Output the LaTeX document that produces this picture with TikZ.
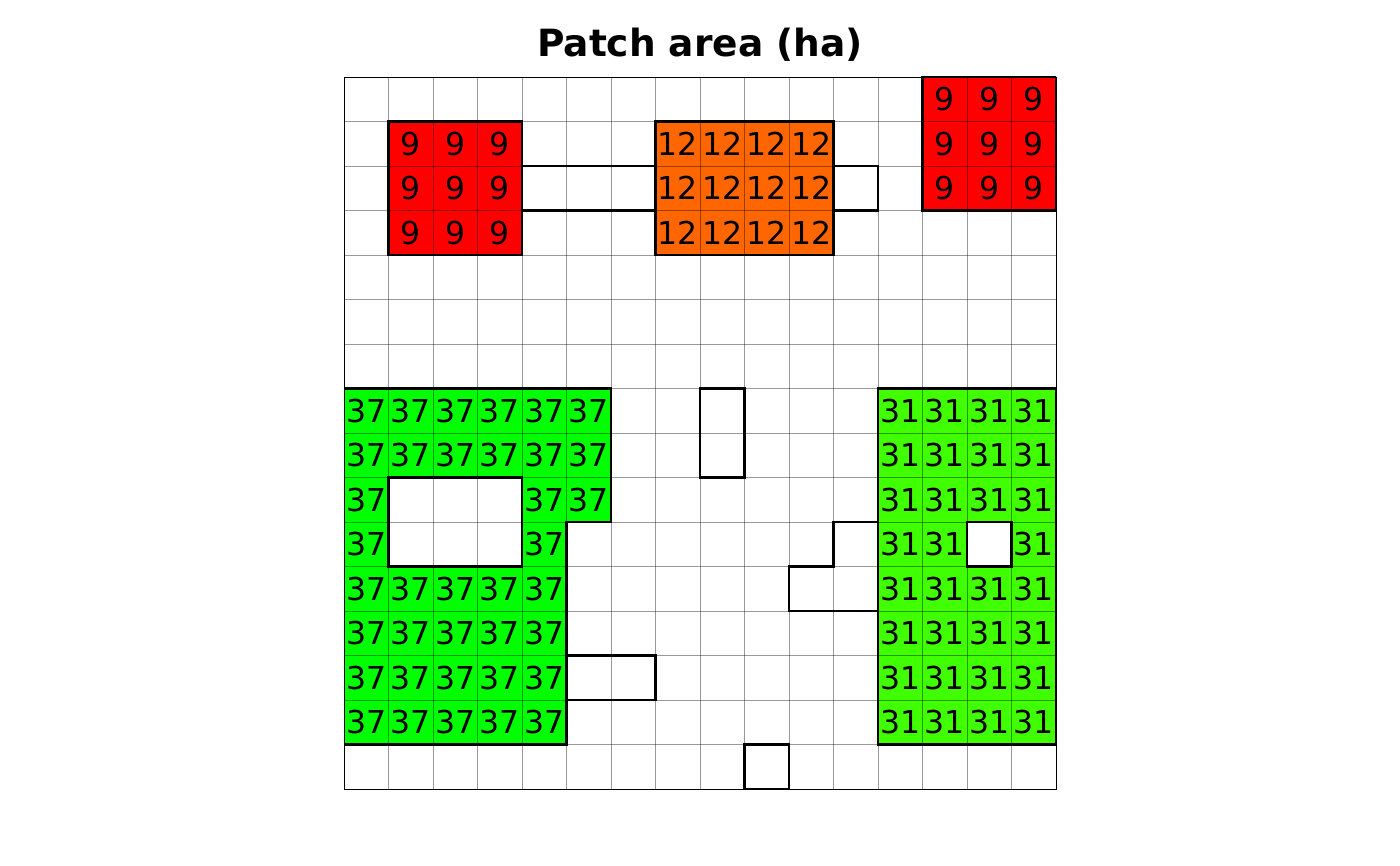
\documentclass[tikz,border=0pt]{standalone}
\usepackage{fontspec}
\setmainfont{DejaVu Sans}
\definecolor{cred}{HTML}{FF0000}
\definecolor{corange}{HTML}{FF6600}
\definecolor{cgreenA}{HTML}{00FF00}
\definecolor{cgreenB}{HTML}{40FF00}
\tikzset{
  gridline/.style={draw=black, draw opacity=0.4, line width=0.8pt},
  patchline/.style={draw=black, line width=2.2pt, line join=miter},
  celltext/.style={font=\fontsize{31.5}{31.5}\selectfont, inner sep=0pt, anchor=center},
  border/.style={draw=black, line width=0.9pt},
}
\newcommand\pcell[4]{%
  \fill[#1] (#2,#3) rectangle ++(1,1);
  \node[celltext] (t-#2-#3) at (#2+0.5,#3+0.5) {#4};
}
\begin{document}
\begin{tikzpicture}[x=1pt,y=-1pt]
\useasboundingbox (0,0) rectangle (1400,866);
\node[font=\bfseries\fontsize{37.5}{37.5}\selectfont, anchor=base, inner sep=0pt] (title) at (700,57) {Patch area (ha)};
\begin{scope}[shift={(344pt,-77pt)}, x=44.5pt, y=-44.5pt]
  % fills and labels
  \foreach \c in {1,2,3} \foreach \r in {1,2,3} {\pcell{cred}{\c}{\r}{9}}
  \foreach \c in {13,14,15} \foreach \r in {0,1,2} {\pcell{cred}{\c}{\r}{9}}
  \foreach \c in {7,8,9,10} \foreach \r in {1,2,3} {\pcell{corange}{\c}{\r}{12}}
  \foreach \c/\r in {0/7,1/7,2/7,3/7,4/7,5/7,0/8,1/8,2/8,3/8,4/8,5/8,0/9,4/9,5/9,0/10,4/10,
    0/11,1/11,2/11,3/11,4/11,0/12,1/12,2/12,3/12,4/12,0/13,1/13,2/13,3/13,4/13,0/14,1/14,2/14,3/14,4/14}
    {\pcell{cgreenA}{\c}{\r}{37}}
  \foreach \c in {12,13,14,15} \foreach \r in {7,8,9,11,12,13,14} {\pcell{cgreenB}{\c}{\r}{31}}
  \foreach \c in {12,13,15} {\pcell{cgreenB}{\c}{10}{31}}
  % grid
  \foreach \i in {1,...,15} {
    \draw[gridline] (\i,0) -- (\i,16);
    \draw[gridline] (0,\i) -- (16,\i);
  }
  % patch outlines
  \begin{scope}
    \clip (0,0) rectangle (16,16);
    \draw[patchline] (1,1) rectangle (4,4);
    \draw[patchline] (4,2) rectangle (7,3);
    \draw[patchline] (7,1) rectangle (11,4);
    \draw[patchline] (11,2) rectangle (12,3);
    \draw[patchline] (13,0) rectangle (16,3);
    \draw[patchline] (0,7) -- (6,7) -- (6,10) -- (5,10) -- (5,15) -- (0,15) -- cycle;
    \draw[patchline] (1,9) rectangle (4,11);
    \draw[patchline] (8,7) rectangle (9,9);
    \draw[patchline] (11,10) -- (12,10) -- (12,12) -- (10,12) -- (10,11) -- (11,11) -- cycle;
    \draw[patchline] (12,7) rectangle (16,15);
    \draw[patchline] (14,10) rectangle (15,11);
    \draw[patchline] (5,13) rectangle (7,14);
    \draw[patchline] (9,15) rectangle (10,16);
  \end{scope}
  \draw[border] (0,0) rectangle (16,16);
\end{scope}
\end{tikzpicture}
\end{document}
